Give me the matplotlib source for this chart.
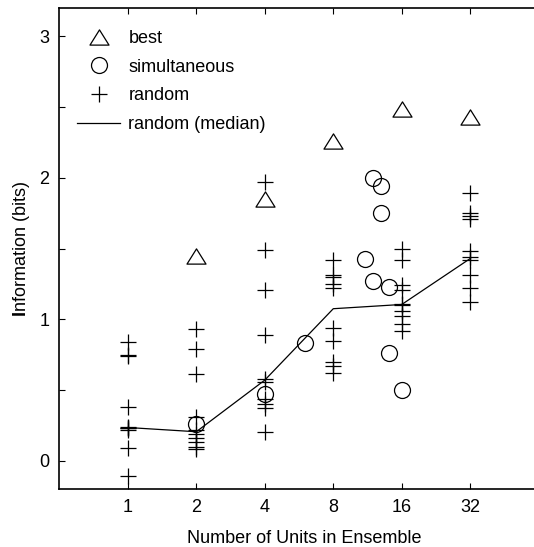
#!/usr/bin/env python3

import numpy as np
import matplotlib
matplotlib.use("Agg")
import matplotlib.pyplot as plt
from matplotlib.path import Path
from matplotlib.ticker import MultipleLocator, FixedLocator, NullLocator

plt.rcParams['font.family'] = ['Liberation Sans', 'DejaVu Sans']
plt.rcParams['mathtext.fontset'] = 'custom'
plt.rcParams['mathtext.bf'] = 'Liberation Sans:weight=bold'
plt.rcParams['mathtext.rm'] = 'Liberation Sans'

# ensemble sizes
units = [1, 2, 4, 8, 16, 32]

# random ensembles, one list per ensemble size
random_1 = [0.84, 0.75, 0.74, 0.38, 0.24, 0.235, 0.23, 0.22, 0.09, -0.11]
random_2 = [0.93, 0.79, 0.61, 0.31, 0.22, 0.19, 0.16, 0.13, 0.10, 0.08]
random_4 = [1.97, 1.49, 1.21, 0.89, 0.58, 0.56, 0.44, 0.40, 0.37, 0.20]
random_8 = [1.42, 1.31, 1.30, 1.25, 1.22, 0.94, 0.85, 0.70, 0.67, 0.62]
random_16 = [1.50, 1.42, 1.24, 1.21, 1.11, 1.10, 1.06, 1.02, 0.97, 0.92]
random_32 = [1.89, 1.75, 1.73, 1.71, 1.48, 1.44, 1.42, 1.31, 1.22, 1.12]
random_all = [random_1, random_2, random_4, random_8, random_16, random_32]

random_median = [0.235, 0.205, 0.57, 1.075, 1.105, 1.43]

best_units = [2, 4, 8, 16, 32]
best_info = [1.45, 1.85, 2.26, 2.49, 2.43]

simult_units = [2, 4, 6, 11, 12, 12, 13, 13, 14, 14, 16]
simult_info = [0.26, 0.47, 0.83, 1.43, 2.00, 1.27, 1.94, 1.75, 1.23, 0.76, 0.50]

FS = 13

if __name__ == "__main__":
    fig = plt.figure(figsize=(5.34, 5.47), dpi=100)
    # right edge of the box runs off the figure, as in the original
    ax = fig.add_axes([0.111, 0.106, 0.919, 0.879])

    tri = Path([(-1, -0.8), (1, -0.8), (0, 0.8), (-1, -0.8)],
               [Path.MOVETO, Path.LINETO, Path.LINETO, Path.CLOSEPOLY])

    for i, u in enumerate(units):
        vals = random_all[i]
        ax.plot([u] * len(vals), vals, linestyle='none', marker='+', ms=12,
                mew=0.9, color='k', label='random' if i == 0 else None)

    ax.plot(best_units, best_info, linestyle='none', marker=tri, ms=13.7,
            mfc='none', mec='k', mew=0.9, label='best')
    ax.plot(simult_units, simult_info, linestyle='none', marker='o', ms=11.5,
            mfc='none', mec='k', mew=0.9, label='simultaneous')
    ax.plot(units, random_median, color='k', lw=0.9, label='random (median)')

    handles, labels = ax.get_legend_handles_labels()
    order = ['best', 'simultaneous', 'random', 'random (median)']
    hl = dict(zip(labels, handles))
    ax.legend([hl[k] for k in order], order, loc='upper left', frameon=False,
              fontsize=FS, bbox_to_anchor=(0.036, 0.955), borderaxespad=0,
              borderpad=0, handlelength=2.4, handletextpad=0.45, labelspacing=0.65)

    ax.set_xscale('log', base=2)
    # keep 1 octave ~ 68.5 px with the wider box
    ax.set_xlim(0.5, 0.5 * 2 ** (0.919 * 534 / 68.5))
    ax.xaxis.set_major_locator(FixedLocator(units))
    ax.xaxis.set_minor_locator(NullLocator())
    ax.set_xticklabels([str(u) for u in units])

    ax.set_ylim(-0.2, 3.2)
    ax.yaxis.set_major_locator(MultipleLocator(1))
    ax.yaxis.set_minor_locator(MultipleLocator(0.5))

    ax.tick_params(which='both', direction='in', top=True, right=True,
                   length=4, width=0.8, labelsize=FS, pad=7)

    for s in ax.spines.values():
        s.set_linewidth(1.2)

    ax.set_xlabel('Number of Units in Ensemble', fontsize=FS, labelpad=10)
    ax.set_ylabel(r'$\mathbf{I}$nformation (bits)', fontsize=FS, labelpad=5)

    fig.savefig('out.png', dpi=100)
